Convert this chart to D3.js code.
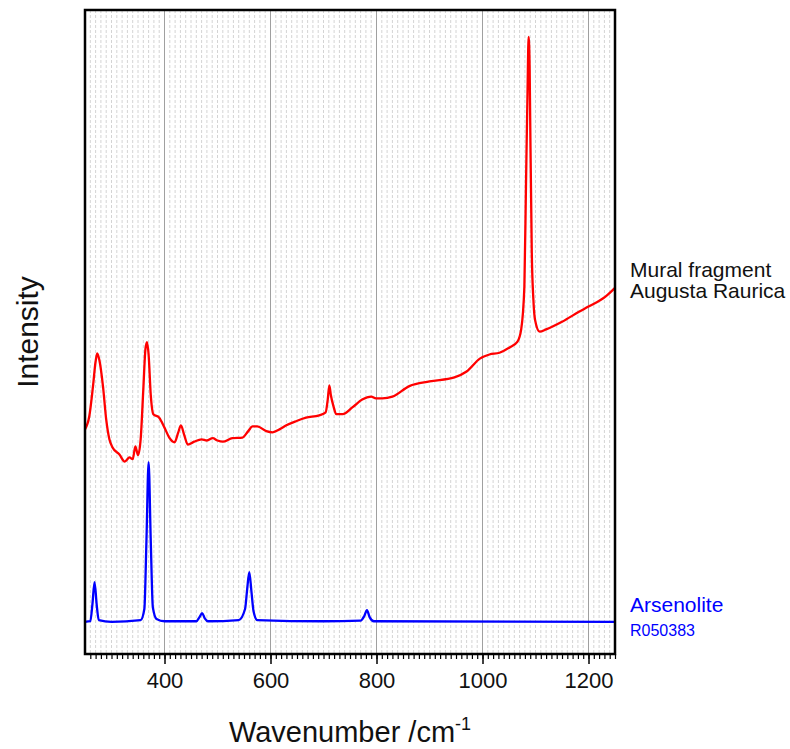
<!DOCTYPE html>
<html>
<head>
<meta charset="utf-8">
<script src="https://cdn.jsdelivr.net/npm/d3@7"></script>
<style>
  body { margin: 0; background: #fff; }
  text { font-family: Arial, "Liberation Sans", sans-serif; }
</style>
</head>
<body>
<div id="chart"></div>
<script>
// Mural fragment (red) - wavenumber / relative intensity
const muralWave = [250, 258, 265, 270, 273, 277, 284, 290, 296, 302, 315, 325, 334, 340, 345, 350, 355, 360, 364, 367, 370, 374, 379, 390, 400, 409, 419, 426, 431, 437, 444, 456, 470, 480, 491, 500, 510, 528, 547, 558, 566, 575, 592, 604, 617, 630, 648, 667, 692, 704, 708, 711, 714, 719, 724, 736, 755, 773, 790, 799, 811, 830, 862, 900, 947, 970, 995, 1013, 1032, 1051, 1066, 1073, 1079, 1082, 1085, 1087, 1089, 1090, 1093, 1096, 1099, 1108, 1120, 1150, 1182, 1200, 1232, 1250];
const muralInt = [0.329, 0.351, 0.402, 0.445, 0.459, 0.448, 0.402, 0.346, 0.312, 0.298, 0.286, 0.274, 0.281, 0.278, 0.300, 0.285, 0.312, 0.397, 0.466, 0.478, 0.457, 0.389, 0.355, 0.349, 0.332, 0.315, 0.307, 0.324, 0.336, 0.320, 0.303, 0.308, 0.312, 0.310, 0.314, 0.310, 0.308, 0.314, 0.315, 0.326, 0.334, 0.334, 0.326, 0.324, 0.329, 0.336, 0.343, 0.349, 0.353, 0.358, 0.380, 0.404, 0.387, 0.368, 0.355, 0.355, 0.367, 0.380, 0.385, 0.382, 0.382, 0.385, 0.403, 0.411, 0.418, 0.428, 0.450, 0.457, 0.460, 0.469, 0.479, 0.500, 0.573, 0.744, 0.909, 1.000, 0.944, 0.858, 0.631, 0.551, 0.517, 0.496, 0.500, 0.513, 0.530, 0.539, 0.556, 0.571];

// Arsenolite reference R050383 (blue)
const arsWave = [250, 260, 264, 268, 272, 276, 300, 355, 362, 366, 370, 374, 378, 385, 400, 460, 466, 471, 476, 482, 540, 552, 556, 560, 564, 568, 575, 700, 770, 777, 782, 787, 795, 1250];
const arsInt = [0, 0.001, 0.03, 0.068, 0.03, 0.003, 0, 0.003, 0.022, 0.141, 0.273, 0.141, 0.025, 0.005, 0.001, 0.001, 0.008, 0.015, 0.006, 0.001, 0.003, 0.022, 0.056, 0.085, 0.052, 0.018, 0.003, 0.001, 0.002, 0.01, 0.020, 0.008, 0.001, 0];

const xTicks = [400, 600, 800, 1000, 1200];

const width = 790;
const height = 749;
const margin = {t: 10, b: 95, l: 85, r: 175};

const svg = d3.select("#chart")
    .append("svg")
    .attr("width", width)
    .attr("height", height);

const x = d3.scaleLinear()
    .domain([250, 1250])
    .range([margin.l, width - margin.r]);
const y = d3.scaleLinear()
    .domain([-0.055, 1.046])
    .range([height - margin.b, margin.t]);

// fine dashed grid every 10 cm-1
svg.append("g")
    .selectAll("line")
    .data(d3.range(260, 1250, 10).filter(d => d % 200 !== 0))
    .join("line")
    .attr("x1", d => x(d)).attr("x2", d => x(d))
    .attr("y1", margin.t).attr("y2", height - margin.b)
    .attr("stroke", "#d4d4d4")
    .attr("stroke-width", 1)
    .attr("stroke-dasharray", "3,2");

// major grid
svg.append("g")
    .selectAll("line")
    .data(xTicks)
    .join("line")
    .attr("x1", d => x(d)).attr("x2", d => x(d))
    .attr("y1", margin.t).attr("y2", height - margin.b)
    .attr("stroke", "#a0a0a0")
    .attr("stroke-width", 1);

const line = (xs, ys) => d3.line()
    .x((d, i) => x(xs[i]))
    .y(d => y(d))
    .curve(d3.curveMonotoneX)(ys);

svg.append("path")
    .attr("d", line(muralWave, muralInt))
    .attr("fill", "none")
    .attr("stroke", "#ff0000")
    .attr("stroke-width", 2.3);

svg.append("path")
    .attr("d", line(arsWave, arsInt))
    .attr("fill", "none")
    .attr("stroke", "#0000ff")
    .attr("stroke-width", 2.3);

// minor ticks
svg.append("g")
    .attr("transform", `translate(0, ${height - margin.b})`)
    .call(d3.axisBottom(x).tickValues(d3.range(260, 1251, 10)).tickSize(5).tickFormat(""))
    .call(g => g.select(".domain").remove())
    .selectAll("line").attr("stroke-width", 1.2);

// major ticks + labels
const xAxis = svg.append("g")
    .attr("transform", `translate(0, ${height - margin.b})`)
    .call(d3.axisBottom(x).tickValues(xTicks).tickSize(10).tickPadding(8).tickFormat(d3.format("d")));
xAxis.select(".domain").remove();
xAxis.selectAll("line").attr("stroke-width", 1.5);
xAxis.selectAll("text")
    .style("font-size", "22px")
    .style("font-family", "Arial, 'Liberation Sans', sans-serif")
    .attr("fill", "#111");

// frame
svg.append("rect")
    .attr("x", margin.l)
    .attr("y", margin.t)
    .attr("width", width - margin.l - margin.r)
    .attr("height", height - margin.t - margin.b)
    .attr("fill", "none")
    .attr("stroke", "#000")
    .attr("stroke-width", 2.5);

// axis titles
const title = svg.append("text")
    .attr("x", (margin.l + width - margin.r) / 2)
    .attr("y", 742)
    .attr("text-anchor", "middle")
    .style("font-size", "29px")
    .attr("fill", "#111")
    .text("Wavenumber /cm");
title.append("tspan")
    .attr("dy", -12)
    .style("font-size", "18px")
    .text("-1");

svg.append("text")
    .attr("transform", `translate(38, ${(margin.t + height - margin.b) / 2}) rotate(-90)`)
    .attr("text-anchor", "middle")
    .style("font-size", "30px")
    .attr("fill", "#111")
    .text("Intensity");

// series labels
svg.append("text")
    .attr("x", 630).attr("y", 277)
    .style("font-size", "21px")
    .attr("fill", "#111")
    .text("Mural fragment");
svg.append("text")
    .attr("x", 630).attr("y", 298)
    .style("font-size", "21px")
    .attr("fill", "#111")
    .text("Augusta Raurica");
svg.append("text")
    .attr("x", 630).attr("y", 612)
    .style("font-size", "21px")
    .attr("fill", "#0000ff")
    .text("Arsenolite");
svg.append("text")
    .attr("x", 630).attr("y", 636)
    .style("font-size", "16px")
    .attr("fill", "#0000ff")
    .text("R050383");
</script>
</body>
</html>
